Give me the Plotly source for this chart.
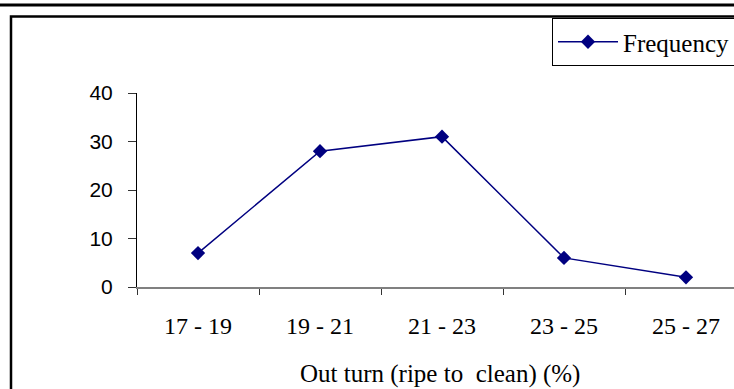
import plotly.graph_objects as go

# Frequency distribution of out-turn (ripe to clean) percentages
classes = ["17 - 19", "19 - 21", "21 - 23", "23 - 25", "25 - 27"]
frequency = [7, 28, 31, 6, 2]
y_ticks = [0, 10, 20, 30, 40]

W, H = 734, 389
L, R, T, B = 137, 0, 93, 102
pw, ph = W - L - R, H - T - B

navy = "#000080"
serif = "Liberation Serif"

fig = go.Figure()
fig.add_trace(go.Scatter(
    x=classes, y=frequency, mode="lines+markers", name="Frequency",
    line=dict(color=navy, width=1.5),
    marker=dict(symbol="diamond", size=11, color=navy),
))

def px_x(v):
    return (v - L) / pw

def px_y(v):
    return (H - B - v) / ph

fig.update_layout(
    width=W, height=H,
    margin=dict(l=L, r=R, t=T, b=B, autoexpand=False),
    paper_bgcolor="white", plot_bgcolor="white",
    showlegend=True,
    legend=dict(
        x=px_x(552), y=px_y(18), xanchor="left", yanchor="top",
        bordercolor="black", borderwidth=1, bgcolor="white",
        font=dict(family=serif, size=25, color="black"),
        itemwidth=60, tracegroupgap=0,
    ),
    xaxis=dict(
        type="category", categoryorder="array", categoryarray=classes,
        range=[-0.5, -0.5 + pw / 122.0],
        showline=True, linecolor="#808080", linewidth=2,
        ticks="outside", ticklen=6, tickcolor="#333333", tickwidth=1,
        tickson="boundaries", ticklabelstandoff=16,
        tickfont=dict(family=serif, size=24, color="black"),
        showgrid=False, zeroline=False,
    ),
    yaxis=dict(
        range=[0, 40], tickvals=y_ticks,
        showline=True, linecolor="black", linewidth=1,
        ticks="outside", ticklen=8, tickcolor="#333333", tickwidth=1,
        ticklabelstandoff=11,
        tickfont=dict(family="Liberation Sans", size=21, color="black"),
        showgrid=False, zeroline=False,
    ),
    annotations=[dict(
        text="Out turn (ripe to\u00a0 clean) (%)",
        xref="paper", yref="paper", x=px_x(440), y=px_y(374),
        xanchor="center", yanchor="middle", showarrow=False,
        font=dict(family=serif, size=25, color="black"),
    )],
    shapes=[
        # heavy rule across the top
        dict(type="line", xref="paper", yref="paper",
             x0=px_x(0), x1=px_x(W), y0=px_y(5), y1=px_y(5),
             line=dict(color="black", width=3)),
        # outer chart frame
        dict(type="rect", xref="paper", yref="paper",
             x0=px_x(11), x1=px_x(W + 20), y0=px_y(16.5), y1=px_y(H + 20),
             line=dict(color="black", width=2.5)),
    ],
)

fig.write_html("out.html")
